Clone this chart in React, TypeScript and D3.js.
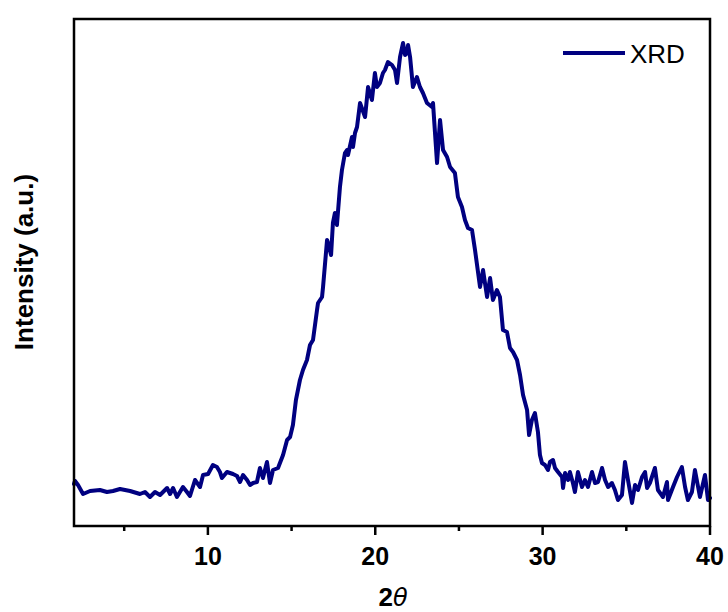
import React from "react";
import * as d3 from "d3";

const twoTheta = [
  2.0, 2.06, 2.24, 2.54, 2.96, 3.55, 3.97, 4.33, 4.75, 5.05, 5.35, 5.94, 6.24, 6.54, 6.84, 7.14, 7.56, 7.74, 7.92, 8.15,
  8.51, 8.75, 8.93, 9.23, 9.53, 9.71, 10.01, 10.3, 10.54, 10.72, 10.84, 11.14, 11.5, 11.74, 11.92, 12.1, 12.34, 12.52,
  12.7, 12.93, 13.11, 13.29, 13.53, 13.71, 13.89, 14.19, 14.49, 14.73, 14.91, 15.08, 15.26, 15.5, 15.68, 15.92, 16.1,
  16.28, 16.52, 16.58, 16.82, 16.88, 17.12, 17.18, 17.36, 17.47, 17.59, 17.71, 17.89, 18.01, 18.19, 18.31, 18.37, 18.61,
  18.67, 18.79, 18.91, 19.09, 19.39, 19.57, 19.8, 19.98, 20.1, 20.28, 20.46, 20.58, 20.76, 21.0, 21.18, 21.3, 21.48,
  21.66, 21.78, 21.9, 21.96, 22.08, 22.25, 22.49, 22.67, 22.85, 23.09, 23.39, 23.45, 23.69, 23.87, 24.05, 24.29, 24.47,
  24.76, 24.94, 25.18, 25.36, 25.54, 25.78, 25.96, 26.26, 26.44, 26.68, 26.86, 27.03, 27.27, 27.45, 27.63, 27.87, 28.05,
  28.23, 28.47, 28.65, 28.83, 29.07, 29.19, 29.36, 29.54, 29.72, 29.84, 29.96, 30.14, 30.32, 30.44, 30.62, 30.74, 30.92,
  31.16, 31.22, 31.34, 31.52, 31.63, 31.81, 31.93, 32.11, 32.35, 32.53, 32.71, 32.95, 33.13, 33.31, 33.55, 33.73, 33.91,
  34.14, 34.32, 34.5, 34.74, 34.92, 35.1, 35.34, 35.52, 35.7, 35.94, 36.12, 36.24, 36.41, 36.71, 36.89, 37.19, 37.43,
  37.49, 37.79, 38.03, 38.32, 38.51, 38.68, 38.92, 39.1, 39.4, 39.7, 39.88, 40.0,
];

const intensity = [
  42, 45, 41, 32, 35, 36, 34, 35, 37, 36, 35, 32, 34, 29, 34, 31, 38, 32, 38, 29,
  39, 34, 30, 46, 39, 51, 52, 61, 59, 54, 48, 54, 52, 50, 44, 51, 46, 41,
  43, 44, 58, 48, 64, 43, 56, 58, 71, 86, 89, 101, 126, 146, 156, 166, 181,
  186, 216, 223, 229, 239, 286, 283, 271, 303, 313, 301, 339, 356, 373, 376, 371, 389,
  379, 393, 399, 423, 409, 439, 426, 453, 439, 443, 453, 456, 464, 461, 456, 443, 469,
  483, 471, 473, 481, 469, 439, 449, 439, 433, 423, 419, 423, 363, 406, 376, 369, 359,
  353, 329, 319, 306, 298, 296, 276, 239, 256, 229, 248, 226, 236, 229, 196, 194, 178,
  174, 166, 151, 131, 116, 91, 106, 113, 94, 71, 63, 61, 56, 64, 66, 58, 54,
  49, 38, 53, 46, 54, 43, 34, 54, 39, 46, 39, 54, 43, 44, 58, 46, 39,
  43, 36, 26, 31, 64, 46, 23, 41, 36, 49, 54, 38, 43, 58, 36, 29, 44,
  26, 39, 49, 59, 39, 26, 34, 56, 29, 51, 26, 28,
];

const majorTicks = [10, 20, 30, 40];
const minorTicks = [5, 15, 25, 35];
const xDomain: [number, number] = [2, 40];
const yDomain: [number, number] = [0, 507];
const seriesName = "XRD";
const xLabel = "2";
const xLabelSymbol = "θ";
const yLabel = "Intensity (a.u.)";

const W = 728;
const H = 612;
const M = { left: 74, right: 710, top: 19, bottom: 526 };
const FONT = "Arial, 'Liberation Sans', Helvetica, sans-serif";
const LINE_COLOR = "#000080";

export default function App() {
  const x = d3.scaleLinear().domain(xDomain).range([M.left, M.right]);
  const y = d3.scaleLinear().domain(yDomain).range([M.bottom, M.top]);
  const data = twoTheta.map((t, i) => [t, intensity[i]] as [number, number]);
  const line = d3
    .line<[number, number]>()
    .x((d) => x(d[0]))
    .y((d) => y(d[1]));

  return (
    <svg
      width={W}
      height={H}
      style={{ position: "absolute", left: 0, top: 0, background: "#fff" }}
      fontFamily={FONT}
    >
      <rect x={0} y={0} width={W} height={H} fill="#fff" />
      <path
        d={line(data) || ""}
        fill="none"
        stroke={LINE_COLOR}
        strokeWidth={4}
        strokeLinejoin="round"
        strokeLinecap="round"
      />
      {/* frame */}
      <rect
        x={M.left}
        y={M.top}
        width={M.right - M.left}
        height={M.bottom - M.top}
        fill="none"
        stroke="#000"
        strokeWidth={2.5}
      />
      {/* ticks */}
      {majorTicks.map((t) => (
        <g key={"M" + t}>
          <line x1={x(t)} x2={x(t)} y1={M.bottom} y2={M.bottom + 9} stroke="#000" strokeWidth={2.5} />
          <text
            x={x(t)}
            y={565}
            textAnchor="middle"
            fontSize={25}
            fontWeight="bold"
            fill="#000"
          >
            {t}
          </text>
        </g>
      ))}
      {minorTicks.map((t) => (
        <line key={"m" + t} x1={x(t)} x2={x(t)} y1={M.bottom} y2={M.bottom + 5} stroke="#000" strokeWidth={2.5} />
      ))}
      {/* axis labels */}
      <text x={393} y={606} textAnchor="middle" fontSize={26} fontWeight="bold" fill="#000">
        {xLabel}
        <tspan fontStyle="italic" fontWeight="normal" fontFamily="'DejaVu Sans', sans-serif" fontSize={24}>
          {xLabelSymbol}
        </tspan>
      </text>
      <text
        transform={`translate(33, 262) rotate(-90)`}
        textAnchor="middle"
        fontSize={26}
        fontWeight="bold"
        fill="#000"
      >
        {yLabel}
      </text>
      {/* legend */}
      <line x1={563} x2={625} y1={53} y2={53} stroke={LINE_COLOR} strokeWidth={4} />
      <text x={630} y={63} fontSize={26} fill="#000">
        {seriesName}
      </text>
    </svg>
  );
}
